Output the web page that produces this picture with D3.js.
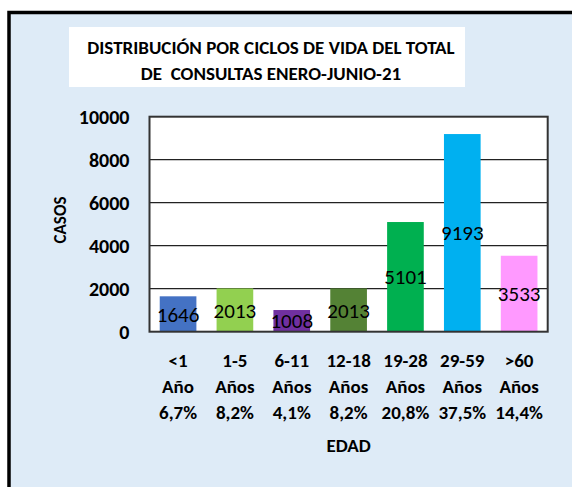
<!DOCTYPE html>
<html>
<head>
<meta charset="utf-8">
<script src="https://cdn.jsdelivr.net/npm/d3@7"></script>
<style>
  body { margin: 0; background: #fff; }
  svg text { font-family: Carlito, Calibri, "Open Sans", sans-serif; fill: #000; }
</style>
</head>
<body>
<div id="chart"></div>
<script>
// chart data
const categories = ["<1", "1-5", "6-11", "12-18", "19-28", "29-59", ">60"];
const unitLabels = ["Año", "Años", "Años", "Años", "Años", "Años", "Años"];
const percentLabels = ["6,7%", "8,2%", "4,1%", "8,2%", "20,8%", "37,5%", "14,4%"];
const casos = [1646, 2013, 1008, 2013, 5101, 9193, 3533];
const barColors = ["#4472C4", "#92D050", "#7030A0", "#548235", "#00B050", "#00B0F0", "#FF99FF"];
const yTickValues = [0, 2000, 4000, 6000, 8000, 10000];
const titleLines = ["DISTRIBUCIÓN POR CICLOS DE VIDA DEL TOTAL", "DE  CONSULTAS ENERO-JUNIO-21"];

const width = 572;
const height = 487;
const marginTop = 116.7;
const marginRight = 24.3;
const marginBottom = 155.3;
const marginLeft = 149.5;

const svg = d3.select("#chart").append("svg")
  .attr("width", width)
  .attr("height", height);

// outer frame (right and bottom edges fall outside the picture)
svg.append("rect")
  .attr("x", 9).attr("y", 12.5)
  .attr("width", 600).attr("height", 520)
  .attr("fill", "#DEEBF7")
  .attr("stroke", "#000")
  .attr("stroke-width", 3.5);

// title box
svg.append("rect")
  .attr("x", 69).attr("y", 27)
  .attr("width", 396).attr("height", 60)
  .attr("fill", "#fff");

svg.append("g").selectAll("text")
  .data(titleLines)
  .join("text")
    .attr("x", 271)
    .attr("y", (d, i) => 54 + i * 26)
    .attr("text-anchor", "middle")
    .attr("font-size", 19)
    .attr("font-weight", "bold")
    .style("white-space", "pre")
    .text(d => d);

const x = d3.scaleBand()
  .domain(categories)
  .range([marginLeft, width - marginRight])
  .paddingInner(0.355)
  .paddingOuter(0.18);

const y = d3.scaleLinear()
  .domain([0, 10000])
  .range([height - marginBottom, marginTop]);

// plot area
svg.append("rect")
  .attr("x", marginLeft).attr("y", marginTop)
  .attr("width", width - marginRight - marginLeft)
  .attr("height", height - marginBottom - marginTop)
  .attr("fill", "#fff");

// gridlines
svg.append("g")
  .selectAll("line")
  .data(yTickValues.slice(1, -1))
  .join("line")
    .attr("x1", marginLeft).attr("x2", width - marginRight)
    .attr("y1", d => y(d)).attr("y2", d => y(d))
    .attr("stroke", "#222")
    .attr("stroke-width", 1.3);

// bars
svg.append("g")
  .selectAll("rect")
  .data(casos)
  .join("rect")
    .attr("x", (d, i) => x(categories[i]))
    .attr("y", d => y(d))
    .attr("width", x.bandwidth())
    .attr("height", d => y(0) - y(d))
    .attr("fill", (d, i) => barColors[i]);

// value labels, centred in the bar
svg.append("g")
  .selectAll("text")
  .data(casos)
  .join("text")
    .attr("x", (d, i) => x(categories[i]) + x.bandwidth() / 2)
    .attr("y", d => (y(d) + y(0)) / 2)
    .attr("dy", "0.36em")
    .attr("text-anchor", "middle")
    .attr("font-size", 21)
    .text(d => d);

// plot border
svg.append("rect")
  .attr("x", marginLeft).attr("y", marginTop)
  .attr("width", width - marginRight - marginLeft)
  .attr("height", height - marginBottom - marginTop)
  .attr("fill", "none")
  .attr("stroke", "#333")
  .attr("stroke-width", 2);

// y axis labels
const yAxis = svg.append("g")
  .attr("transform", `translate(${marginLeft - 20},0)`)
  .call(d3.axisLeft(y).tickValues(yTickValues).tickSize(0).tickPadding(0).tickFormat(d3.format("d")));
yAxis.select(".domain").remove();
yAxis.selectAll("text")
  .attr("font-size", 20)
  .attr("font-weight", "bold")
  .attr("font-family", null);

// x category labels, three lines each
const xLabels = svg.append("g")
  .selectAll("text")
  .data(categories)
  .join("text")
    .attr("x", d => x(d) + x.bandwidth() / 2)
    .attr("y", 367)
    .attr("text-anchor", "middle")
    .attr("font-size", 19)
    .attr("font-weight", "bold");
xLabels.append("tspan").text(d => d);
xLabels.append("tspan")
  .attr("x", d => x(d) + x.bandwidth() / 2)
  .attr("dy", 26)
  .text((d, i) => unitLabels[i]);
xLabels.append("tspan")
  .attr("x", d => x(d) + x.bandwidth() / 2)
  .attr("dy", 26)
  .text((d, i) => percentLabels[i]);

// axis titles
svg.append("text")
  .attr("x", (marginLeft + width - marginRight) / 2)
  .attr("y", 452)
  .attr("text-anchor", "middle")
  .attr("font-size", 19)
  .attr("font-weight", "bold")
  .text("EDAD");

svg.append("text")
  .attr("transform", "translate(66,220) rotate(-90)")
  .attr("text-anchor", "middle")
  .attr("font-size", 17)
  .attr("font-weight", "bold")
  .text("CASOS");
</script>
</body>
</html>
